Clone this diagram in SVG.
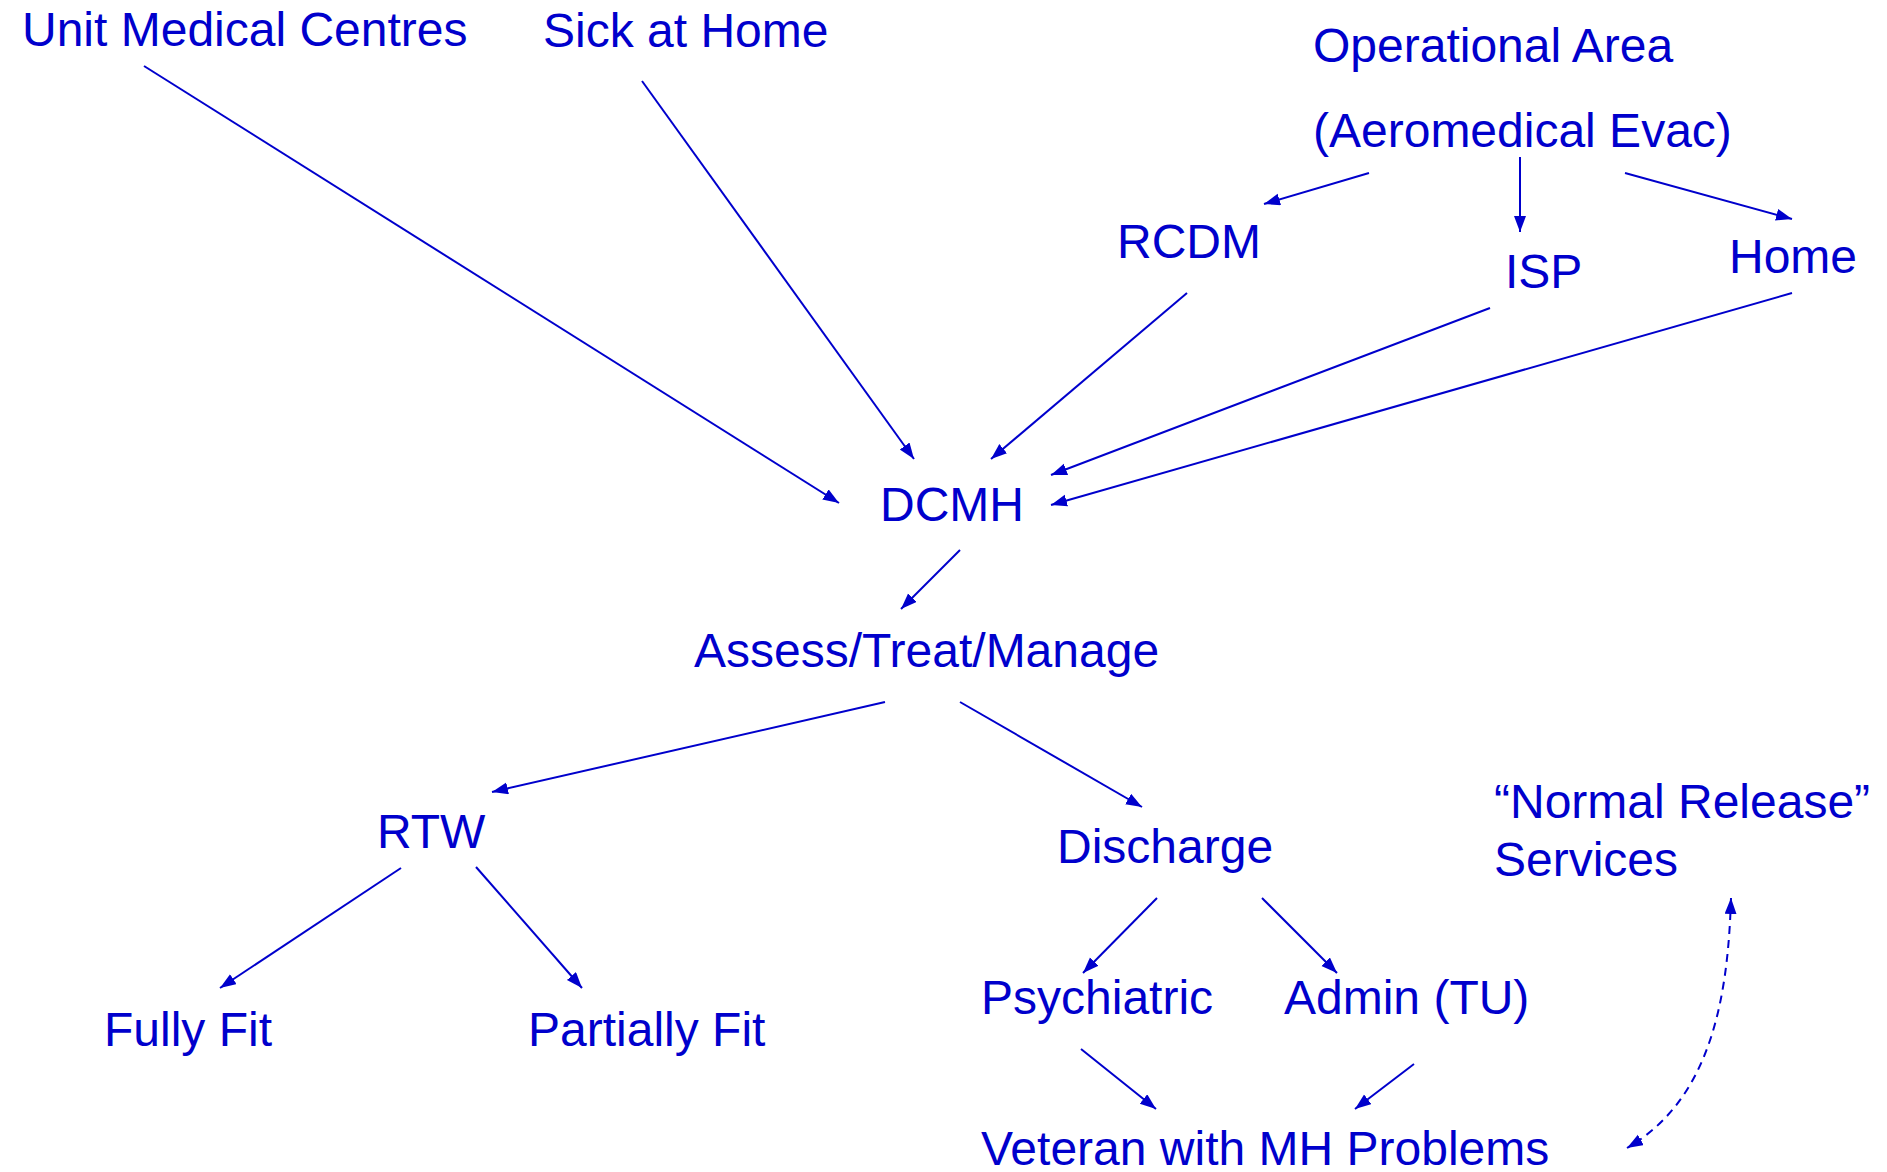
<svg xmlns="http://www.w3.org/2000/svg" width="1887" height="1172" viewBox="0 0 1887 1172">
<style>
text{font-family:"Liberation Sans",Arial,sans-serif;font-size:48px;fill:#0000CC}
.c line,.c path{stroke:#0000CC;stroke-width:2;fill:none}
</style>
<defs>
<marker id="ah" markerUnits="userSpaceOnUse" markerWidth="18" markerHeight="14" refX="16" refY="6" orient="auto-start-reverse">
<path d="M0,0 L16,6 L0,12 z" fill="#0000CC"/>
</marker>
</defs>
<rect width="1887" height="1172" fill="#fff"/>
<g id="n-umc"><text x="22" y="46">Unit Medical Centres</text></g>
<g id="n-sick"><text x="543" y="47">Sick at Home</text></g>
<g id="n-op"><text x="1313" y="62">Operational Area</text><text x="1313" y="147">(Aeromedical Evac)</text></g>
<g id="n-rcdm"><text x="1117" y="258">RCDM</text></g>
<g id="n-isp"><text x="1505" y="288">ISP</text></g>
<g id="n-home"><text x="1729" y="273">Home</text></g>
<g id="n-dcmh"><text x="880" y="521">DCMH</text></g>
<g id="n-assess"><text x="694" y="667">Assess/Treat/Manage</text></g>
<g id="n-rtw"><text x="377" y="848">RTW</text></g>
<g id="n-discharge"><text x="1057" y="863">Discharge</text></g>
<g id="n-fully"><text x="104" y="1046">Fully Fit</text></g>
<g id="n-partially"><text x="528" y="1046">Partially Fit</text></g>
<g id="n-psych"><text x="981" y="1014">Psychiatric</text></g>
<g id="n-admin"><text x="1284" y="1014">Admin (TU)</text></g>
<g id="n-veteran"><text x="981" y="1165">Veteran with MH Problems</text></g>
<g id="n-normal"><text x="1494" y="818">“Normal Release”</text><text x="1494" y="876">Services</text></g>
<g class="c" id="connectors">
<line x1="144" y1="66" x2="839" y2="503" marker-end="url(#ah)"/>
<line x1="642" y1="81" x2="914" y2="459" marker-end="url(#ah)"/>
<line x1="1369" y1="173" x2="1264" y2="204" marker-end="url(#ah)"/>
<line x1="1520" y1="157" x2="1520" y2="232" marker-end="url(#ah)"/>
<line x1="1625" y1="173" x2="1792" y2="219" marker-end="url(#ah)"/>
<line x1="1187" y1="293" x2="991" y2="459" marker-end="url(#ah)"/>
<line x1="1490" y1="308" x2="1051" y2="475" marker-end="url(#ah)"/>
<line x1="1792" y1="293" x2="1051" y2="505" marker-end="url(#ah)"/>
<line x1="960" y1="550" x2="901" y2="609" marker-end="url(#ah)"/>
<line x1="885" y1="702" x2="492" y2="792" marker-end="url(#ah)"/>
<line x1="960" y1="702" x2="1142" y2="807" marker-end="url(#ah)"/>
<line x1="401" y1="868" x2="220" y2="988" marker-end="url(#ah)"/>
<line x1="476" y1="867" x2="582" y2="988" marker-end="url(#ah)"/>
<line x1="1157" y1="898" x2="1083" y2="973" marker-end="url(#ah)"/>
<line x1="1262" y1="898" x2="1337" y2="973" marker-end="url(#ah)"/>
<line x1="1081" y1="1049" x2="1156" y2="1109" marker-end="url(#ah)"/>
<line x1="1414" y1="1064" x2="1355" y2="1109" marker-end="url(#ah)"/>
<path d="M1731,898 C1728,1000 1710,1100 1627,1148" stroke-dasharray="8,6" marker-start="url(#ah)" marker-end="url(#ah)"/>
</g>
</svg>
